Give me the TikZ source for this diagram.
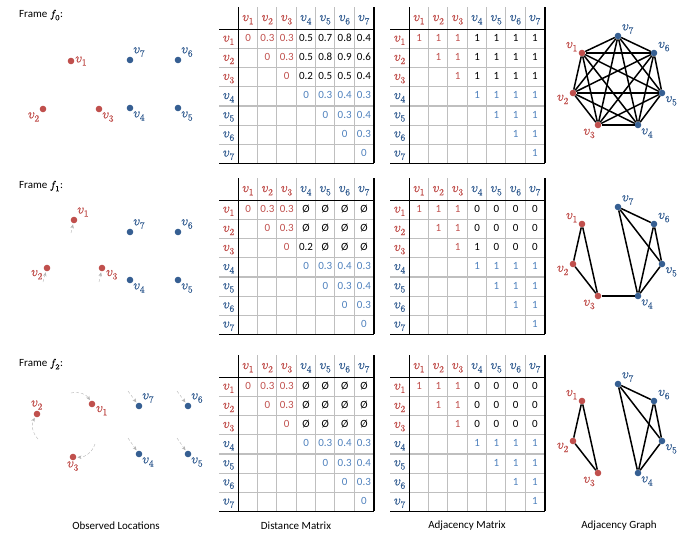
\documentclass[tikz,border=0pt]{standalone}
\usepackage{fontspec}
\usepackage{unicode-math}
\setmainfont{Carlito}
\setmathfont{Latin Modern Math}[FakeBold=0.7]
\usetikzlibrary{matrix,arrows.meta,positioning}

\definecolor{vred}{RGB}{192,80,77}
\definecolor{vblue}{RGB}{54,95,146}
\definecolor{nblue}{RGB}{79,129,189}
\definecolor{gridgray}{RGB}{191,191,191}
\definecolor{movegray}{RGB}{180,180,180}

\newcommand{\vsym}[2]{\textcolor{#1}{\fontsize{13.5}{15}\selectfont$v_{#2}$}}
\newcommand{\rv}[1]{\vsym{vred}{#1}}
\newcommand{\bv}[1]{\vsym{vblue}{#1}}
\newcommand{\rn}[1]{\textcolor{vred}{#1}}
\newcommand{\bn}[1]{\textcolor{nblue}{#1}}
\newcommand{\nul}{Ø}

% grid of one matrix table
\newcommand{\tablegrid}[1]{%
  \foreach \c in {3,...,8}
    \draw[gridline] (#1-1-\c.north west) -- (#1-8-\c.south west);
  \foreach \r in {2,...,7}
    \draw[gridline] (#1-\r-1.south west) -- (#1-\r-8.south east);
  \draw[ruleline] (#1-1-2.north west) -- (#1-8-2.south west);
  \draw[ruleline] (#1-1-1.south west) -- (#1-1-8.south east);
  \draw[ruleline] (#1-8-1.south west) -- (#1-8-8.south east);
  \draw[ruleline] (#1-1-8.north east) -- (#1-8-8.south east);
}

% heptagon of the adjacency graph
\def\graphspots{1/582/53/vred/165,2/573/93/vred/195,3/598/125/vred/-125,
  4/638/125/vblue/-45,5/662/93/vblue/-40,6/654/53/vblue/15,7/618/36/vblue/25}

\begin{document}
\begin{tikzpicture}[x=1pt,y=-1pt,
  txt/.style={font=\fontsize{11}{13}\selectfont,inner sep=0pt},
  title/.style={txt,anchor=west},
  rdot/.style={circle,fill=vred,inner sep=0pt,minimum size=6.6pt},
  bdot/.style={circle,fill=vblue,inner sep=0pt,minimum size=6.6pt},
  rlab/.style={inner sep=0.6pt,label distance=0pt},
  blab/.style={inner sep=0.6pt,label distance=0pt},
  motion/.style={densely dashed,movegray,thin,shorten >=1pt,-{Stealth[length=4pt,width=3.5pt]}},
  gdot/.style={circle,inner sep=0pt,minimum size=6.6pt},
  edge/.style={line width=1.5pt},
  gridline/.style={gridgray,line width=1.1pt},
  ruleline/.style={black,line width=1.5pt},
  mat/.style={matrix of nodes,nodes in empty cells,anchor=north west,
    inner sep=0pt,column sep=0pt,row sep=0pt,
    nodes={inner sep=0pt,minimum width=19.3pt,minimum height=19.15pt,
      text height=8pt,text depth=2.5pt,anchor=center,
      font=\fontsize{11}{13}\selectfont},
    row 1/.style={nodes={minimum height=22pt}}}]
\useasboundingbox (0,0) rectangle (699,536);

%% frame f0
\begin{scope}
\node[title] (t0) at (19,15) {Frame $f_0$:};
\node[rdot,label={[rlab]right:\rv1}] (o0-1) at (71,61) {};
\node[rdot,label={[rlab]below left:\rv2}] (o0-2) at (43,109) {};
\node[rdot,label={[rlab]below right:\rv3}] (o0-3) at (99,109) {};
\node[bdot,label={[blab]below right:\bv4}] (o0-4) at (130,108) {};
\node[bdot,label={[blab]below right:\bv5}] (o0-5) at (178,108) {};
\node[bdot,label={[blab]above right:\bv6}] (o0-6) at (178,60) {};
\node[bdot,label={[blab]above right:\bv7}] (o0-7) at (130,60) {};

\matrix[mat] (d0) at (219,7) {
     & \rv1 & \rv2 & \rv3 & \bv4 & \bv5 & \bv6 & \bv7 \\
\rv1 & \rn0 & \rn{0.3} & \rn{0.3} & 0.5 & 0.7 & 0.8 & 0.4 \\
\rv2 &  & \rn0 & \rn{0.3} & 0.5 & 0.8 & 0.9 & 0.6 \\
\rv3 &  &  & \rn0 & 0.2 & 0.5 & 0.5 & 0.4 \\
\bv4 &  &  &  & \bn0 & \bn{0.3} & \bn{0.4} & \bn{0.3} \\
\bv5 &  &  &  &  & \bn0 & \bn{0.3} & \bn{0.4} \\
\bv6 &  &  &  &  &  & \bn0 & \bn{0.3} \\
\bv7 &  &  &  &  &  &  & \bn0 \\
};
\tablegrid{d0}

\matrix[mat] (a0) at (390,7) {
     & \rv1 & \rv2 & \rv3 & \bv4 & \bv5 & \bv6 & \bv7 \\
\rv1 & \rn1 & \rn1 & \rn1 & 1 & 1 & 1 & 1 \\
\rv2 &  & \rn1 & \rn1 & 1 & 1 & 1 & 1 \\
\rv3 &  &  & \rn1 & 1 & 1 & 1 & 1 \\
\bv4 &  &  &  & \bn1 & \bn1 & \bn1 & \bn1 \\
\bv5 &  &  &  &  & \bn1 & \bn1 & \bn1 \\
\bv6 &  &  &  &  &  & \bn1 & \bn1 \\
\bv7 &  &  &  &  &  &  & \bn1 \\
};
\tablegrid{a0}

\foreach \k/\px/\py/\col/\ang in \graphspots
  \node[gdot,fill=\col,label={[inner sep=0.6pt]\ang:\vsym{\col}{\k}}] (g0-\k) at (\px,\py) {};
\foreach \i in {1,...,7}
  \foreach \j in {1,...,7}
    {\ifnum\j>\i \draw[edge] (g0-\i) -- (g0-\j); \fi}
\end{scope}

%% frame f1
\begin{scope}[shift={(0,171)}]
\node[title] (t1) at (19,15) {Frame $f_1$:};
\node[rdot,label={[rlab]above right:\rv1}] (o1-1) at (74,49) {};
\node[rdot,label={[rlab]200:\rv2}] (o1-2) at (47,97) {};
\node[rdot,label={[rlab]-20:\rv3}] (o1-3) at (102,97) {};
\node[bdot,label={[blab]below right:\bv4}] (o1-4) at (130,109) {};
\node[bdot,label={[blab]below right:\bv5}] (o1-5) at (178,109) {};
\node[bdot,label={[blab]above right:\bv6}] (o1-6) at (178,61) {};
\node[bdot,label={[blab]above right:\bv7}] (o1-7) at (130,61) {};
\coordinate (m1-1) at (71,62);
\coordinate (m1-2) at (43,111);
\coordinate (m1-3) at (99,111);
\foreach \k in {1,2,3}
  \draw[motion] (m1-\k) -- (o1-\k);

\matrix[mat] (d1) at (219,7) {
     & \rv1 & \rv2 & \rv3 & \bv4 & \bv5 & \bv6 & \bv7 \\
\rv1 & \rn0 & \rn{0.3} & \rn{0.3} & \nul & \nul & \nul & \nul \\
\rv2 &  & \rn0 & \rn{0.3} & \nul & \nul & \nul & \nul \\
\rv3 &  &  & \rn0 & 0.2 & \nul & \nul & \nul \\
\bv4 &  &  &  & \bn0 & \bn{0.3} & \bn{0.4} & \bn{0.3} \\
\bv5 &  &  &  &  & \bn0 & \bn{0.3} & \bn{0.4} \\
\bv6 &  &  &  &  &  & \bn0 & \bn{0.3} \\
\bv7 &  &  &  &  &  &  & \bn0 \\
};
\tablegrid{d1}

\matrix[mat] (a1) at (390,7) {
     & \rv1 & \rv2 & \rv3 & \bv4 & \bv5 & \bv6 & \bv7 \\
\rv1 & \rn1 & \rn1 & \rn1 & 0 & 0 & 0 & 0 \\
\rv2 &  & \rn1 & \rn1 & 0 & 0 & 0 & 0 \\
\rv3 &  &  & \rn1 & 1 & 0 & 0 & 0 \\
\bv4 &  &  &  & \bn1 & \bn1 & \bn1 & \bn1 \\
\bv5 &  &  &  &  & \bn1 & \bn1 & \bn1 \\
\bv6 &  &  &  &  &  & \bn1 & \bn1 \\
\bv7 &  &  &  &  &  &  & \bn1 \\
};
\tablegrid{a1}

\foreach \k/\px/\py/\col/\ang in \graphspots
  \node[gdot,fill=\col,label={[inner sep=0.6pt]\ang:\vsym{\col}{\k}}] (g1-\k) at (\px,\py) {};
\foreach \a/\b in {1/2,1/3,2/3,3/4,4/5,4/6,4/7,5/6,5/7,6/7}
  \draw[edge] (g1-\a) -- (g1-\b);
\end{scope}

%% frame f2
\begin{scope}[shift={(0,348)}]
\node[title] (t2) at (19,16) {Frame $f_2$:};
\node[rdot,label={[rlab]-20:\rv1}] (o2-1) at (92,56) {};
\node[rdot,label={[rlab]above:\rv2}] (o2-2) at (37,66) {};
\node[rdot,label={[rlab]below:\rv3}] (o2-3) at (73,109) {};
\node[bdot,label={[blab]below right:\bv4}] (o2-4) at (139,106) {};
\node[bdot,label={[blab]below right:\bv5}] (o2-5) at (188,106) {};
\node[bdot,label={[blab]above right:\bv6}] (o2-6) at (188,58) {};
\node[bdot,label={[blab]above right:\bv7}] (o2-7) at (139,58) {};
\coordinate (m2-1) at (71,45);
\coordinate (m2-2) at (38,91);
\coordinate (m2-3) at (95,96);
\coordinate (m2-4) at (128,90);
\coordinate (m2-5) at (177,90);
\coordinate (m2-6) at (177,43);
\coordinate (m2-7) at (128,43);
\foreach \k in {1,2,3}
  \draw[motion] (m2-\k) to[bend left=35] (o2-\k);
\foreach \k in {4,...,7}
  \draw[motion] (m2-\k) -- (o2-\k);

\matrix[mat] (d2) at (219,7) {
     & \rv1 & \rv2 & \rv3 & \bv4 & \bv5 & \bv6 & \bv7 \\
\rv1 & \rn0 & \rn{0.3} & \rn{0.3} & \nul & \nul & \nul & \nul \\
\rv2 &  & \rn0 & \rn{0.3} & \nul & \nul & \nul & \nul \\
\rv3 &  &  & \rn0 & \nul & \nul & \nul & \nul \\
\bv4 &  &  &  & \bn0 & \bn{0.3} & \bn{0.4} & \bn{0.3} \\
\bv5 &  &  &  &  & \bn0 & \bn{0.3} & \bn{0.4} \\
\bv6 &  &  &  &  &  & \bn0 & \bn{0.3} \\
\bv7 &  &  &  &  &  &  & \bn0 \\
};
\tablegrid{d2}

\matrix[mat] (a2) at (390,7) {
     & \rv1 & \rv2 & \rv3 & \bv4 & \bv5 & \bv6 & \bv7 \\
\rv1 & \rn1 & \rn1 & \rn1 & 0 & 0 & 0 & 0 \\
\rv2 &  & \rn1 & \rn1 & 0 & 0 & 0 & 0 \\
\rv3 &  &  & \rn1 & 0 & 0 & 0 & 0 \\
\bv4 &  &  &  & \bn1 & \bn1 & \bn1 & \bn1 \\
\bv5 &  &  &  &  & \bn1 & \bn1 & \bn1 \\
\bv6 &  &  &  &  &  & \bn1 & \bn1 \\
\bv7 &  &  &  &  &  &  & \bn1 \\
};
\tablegrid{a2}

\foreach \k/\px/\py/\col/\ang in \graphspots
  \node[gdot,fill=\col,label={[inner sep=0.6pt]\ang:\vsym{\col}{\k}}] (g2-\k) at (\px,\py) {};
\foreach \a/\b in {1/2,1/3,2/3,4/5,4/6,4/7,5/6,5/7,6/7}
  \draw[edge] (g2-\a) -- (g2-\b);
\end{scope}

%% column captions
\node[txt] (cap1) at (116,526) {Observed Locations};
\node[txt] (cap2) at (296,526) {Distance Matrix};
\node[txt] (cap3) at (467,526) {Adjacency Matrix};
\node[txt] (cap4) at (619,526) {Adjacency Graph};
\end{tikzpicture}
\end{document}
